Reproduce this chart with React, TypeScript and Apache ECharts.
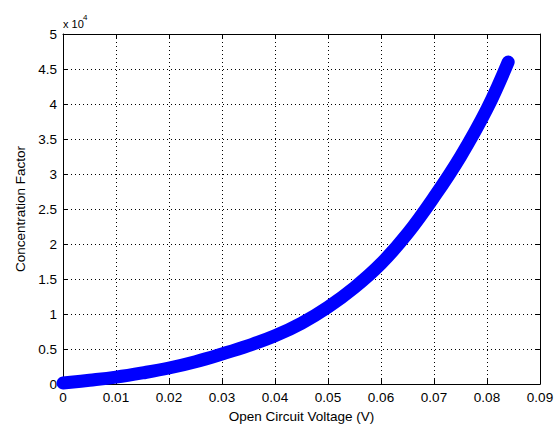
import React, { useEffect, useRef } from "react";
import * as echarts from "echarts";

const voltage = [0, 0.005, 0.01, 0.015, 0.02, 0.025, 0.03, 0.035, 0.04, 0.045, 0.05, 0.055, 0.06, 0.065, 0.07, 0.075, 0.08, 0.084];
const factor = [150, 550, 1000, 1600, 2300, 3200, 4300, 5500, 6900, 8700, 11000, 13800, 17200, 21500, 26700, 32500, 39300, 46000];

const xTickStep = 0.01;
const yTickStep = 5000;
const yScaleLabel = "x 10";
const yScaleExp = "4";

const FONT = "'Liberation Sans', Arial, Helvetica, sans-serif";

export default function App() {
  const ref = useRef<HTMLDivElement>(null);
  useEffect(() => {
    if (!ref.current) return;
    const chart = echarts.init(ref.current, undefined, { renderer: "svg" });
    const data = voltage.map((v, i) => [v, factor[i]]);
    const gridL = 63, gridT = 34, gridR = 20, gridB = 36;
    const xFmt = (v: number) => (Math.abs(v) < 1e-9 ? "0" : v.toFixed(2));
    const yFmt = (v: number) => String(+(v / 10000).toFixed(1));
    const tickStyle = { show: true, inside: true, length: 5, lineStyle: { color: "#000", width: 1 } };
    const splitStyle = { show: true, lineStyle: { color: "#000", width: 1, type: [1, 3] as any } };
    const label = { color: "#000", fontFamily: FONT, fontSize: 13.5 };
    chart.setOption({
      animation: false,
      backgroundColor: "#fff",
      grid: { left: gridL, top: gridT, right: gridR, bottom: gridB, containLabel: false },
      xAxis: [
        {
          type: "value", min: 0, max: 0.09, interval: xTickStep, position: "bottom",
          axisLine: { show: true, onZero: false, lineStyle: { color: "#000", width: 1 } },
          axisTick: tickStyle,
          axisLabel: { ...label, margin: 6, formatter: xFmt },
          splitLine: splitStyle,
          name: "Open Circuit Voltage (V)", nameLocation: "middle", nameGap: 22,
          nameTextStyle: { color: "#000", fontFamily: FONT, fontSize: 13.5 },
        },
        {
          type: "value", min: 0, max: 0.09, interval: xTickStep, position: "top",
          axisLine: { show: true, onZero: false, lineStyle: { color: "#000", width: 1 } },
          axisTick: tickStyle, axisLabel: { show: false }, splitLine: { show: false },
        },
      ],
      yAxis: [
        {
          type: "value", min: 0, max: 50000, interval: yTickStep, position: "left",
          axisLine: { show: true, onZero: false, lineStyle: { color: "#000", width: 1 } },
          axisTick: tickStyle,
          axisLabel: { ...label, margin: 6, formatter: yFmt },
          splitLine: splitStyle,
          name: "Concentration Factor", nameLocation: "middle", nameGap: 35,
          nameTextStyle: { color: "#000", fontFamily: FONT, fontSize: 13.5 },
        },
        {
          type: "value", min: 0, max: 50000, interval: yTickStep, position: "right",
          axisLine: { show: true, onZero: false, lineStyle: { color: "#000", width: 1 } },
          axisTick: tickStyle, axisLabel: { show: false }, splitLine: { show: false },
        },
      ],
      graphic: [
        { type: "text", style: { text: yScaleLabel, x: 63, y: 29, fill: "#000", font: `11px ${FONT}`, verticalAlign: "bottom", align: "left" } },
        { type: "text", style: { text: yScaleExp, x: 83, y: 21, fill: "#000", font: `8px ${FONT}`, verticalAlign: "bottom", align: "left" } },
      ],
      series: [
        {
          type: "line", xAxisIndex: 0, yAxisIndex: 0, data, showSymbol: false, symbol: "none",
          smooth: 0.4, clip: false,
          lineStyle: { color: "#0000ff", width: 13, cap: "round", join: "round" },
        },
      ],
    });
    return () => chart.dispose();
  }, []);
  return <div ref={ref} style={{ position: "fixed", left: 0, top: 0, width: 560, height: 428, background: "#fff" }} />;
}
